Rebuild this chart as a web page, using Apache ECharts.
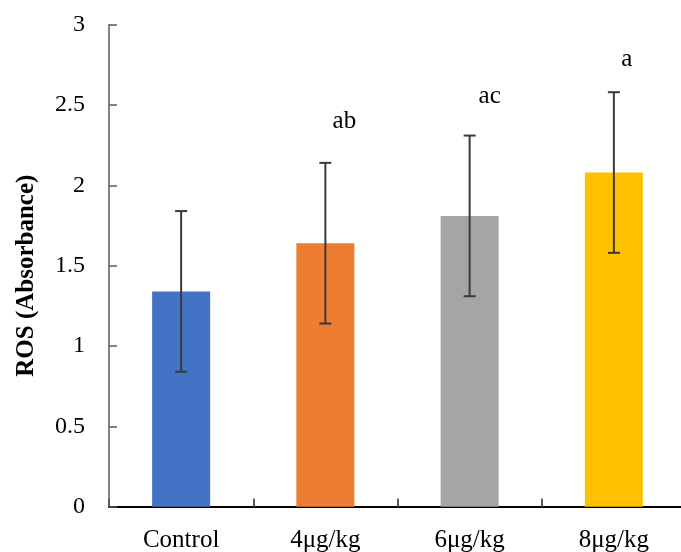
<!DOCTYPE html>
<html>
<head>
<meta charset="utf-8">
<script src="https://cdn.jsdelivr.net/npm/echarts@6/dist/echarts.min.js"></script>
<style>
  html, body { margin: 0; padding: 0; background: #fff; }
  #chart { width: 681px; height: 552px; }
</style>
</head>
<body>
<div id="chart"></div>
<script>
// Groups and mean ROS absorbance with standard deviation
const categories = ['Control', '4μg/kg', '6μg/kg', '8μg/kg'];
const means = [1.34, 1.64, 1.81, 2.08];
const errors = [0.5, 0.5, 0.5, 0.5];
const barColors = ['#4472C4', '#ED7D31', '#A5A5A5', '#FFC000'];
// Significance letters and the value level where each is written
const sigLetters = ['', 'ab', 'ac', 'a'];
const sigLevels = [null, 2.40, 2.555, 2.785];
const yTicks = { min: 0, max: 3, interval: 0.5 };

const letterShiftX = [0, 19, 20, 13];
const FONT = '"Liberation Serif", "Times New Roman", serif';

const chart = echarts.init(document.getElementById('chart'), null, { renderer: 'canvas' });

chart.setOption({
  animation: false,
  backgroundColor: '#ffffff',
  grid: { left: 109, top: 24.7, width: 577, height: 482, containLabel: false, outerBoundsMode: 'none' },
  xAxis: {
    type: 'category',
    data: categories,
    axisLine: { lineStyle: { color: '#000000', width: 2 } },
    axisTick: { show: true, inside: true, length: 8, lineStyle: { color: '#595959', width: 2 } },
    axisLabel: { color: '#000', fontFamily: FONT, fontSize: 25, margin: 21 },
    splitLine: { show: false }
  },
  yAxis: {
    type: 'value',
    min: yTicks.min,
    max: yTicks.max,
    interval: yTicks.interval,
    name: 'ROS (Absorbance)',
    nameLocation: 'middle',
    nameGap: 70,
    nameRotate: 90,
    nameTextStyle: { color: '#000', fontFamily: FONT, fontSize: 25, fontWeight: 'bold', padding: [0, 20, 0, 0] },
    axisLine: { show: true, lineStyle: { color: '#595959', width: 1.5 } },
    axisTick: { show: true, inside: true, length: 8, lineStyle: { color: '#595959', width: 1.5 } },
    axisLabel: { color: '#000', fontFamily: FONT, fontSize: 24, margin: 24 },
    splitLine: { show: false }
  },
  series: [
    {
      type: 'bar',
      barWidth: 58,
      data: means.map((v, i) => ({ value: v, itemStyle: { color: barColors[i] } })),
      z: 2
    },
    {
      type: 'custom',
      z: 3,
      data: means.map((v, i) => [i, v - errors[i], v + errors[i]]),
      renderItem: function (params, api) {
        const lo = api.coord([api.value(0), api.value(1)]);
        const hi = api.coord([api.value(0), api.value(2)]);
        const cap = 6;
        const style = { stroke: '#3a3a3a', lineWidth: 2 };
        return {
          type: 'group',
          children: [
            { type: 'line', shape: { x1: hi[0], y1: hi[1], x2: lo[0], y2: lo[1] }, style: style },
            { type: 'line', shape: { x1: hi[0] - cap, y1: hi[1], x2: hi[0] + cap, y2: hi[1] }, style: style },
            { type: 'line', shape: { x1: lo[0] - cap, y1: lo[1], x2: lo[0] + cap, y2: lo[1] }, style: style }
          ]
        };
      }
    },
    {
      type: 'custom',
      z: 4,
      data: sigLetters.map((t, i) => [i, sigLevels[i] === null ? 0 : sigLevels[i]]),
      renderItem: function (params, api) {
        const i = params.dataIndex;
        if (!sigLetters[i]) return null;
        const p = api.coord([api.value(0), api.value(1)]);
        return {
          type: 'text',
          x: p[0] + letterShiftX[i],
          y: p[1],
          style: {
            text: sigLetters[i],
            fill: '#000',
            font: '25px ' + FONT,
            align: 'center',
            verticalAlign: 'middle'
          }
        };
      }
    }
  ]
});
</script>
</body>
</html>
